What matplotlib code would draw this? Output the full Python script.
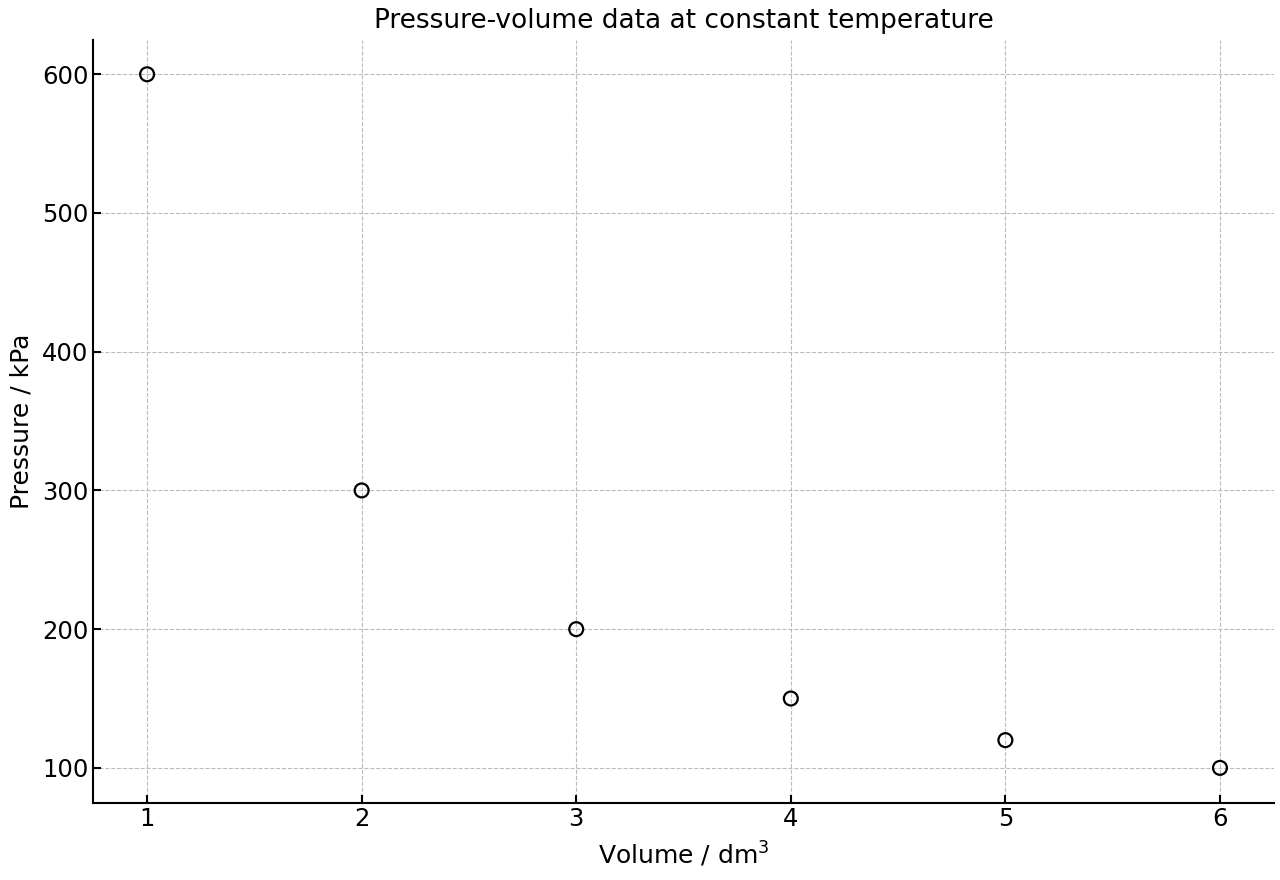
import matplotlib
matplotlib.use("Agg")
import matplotlib.pyplot as plt

# volume (dm^3) and pressure (kPa) readings
volume = [1, 2, 3, 4, 5, 6]
pressure = [600, 300, 200, 150, 120, 100]

fig, ax = plt.subplots(figsize=(12.8, 8.8), dpi=100)
ax.scatter(volume, pressure, s=100, facecolors='none', edgecolors='black', linewidths=1.6, zorder=3)

ax.set_title('Pressure-volume data at constant temperature', fontsize=19, pad=8)
ax.set_xlabel('Volume / dm$^3$', fontsize=18, labelpad=6)
ax.set_ylabel('Pressure / kPa', fontsize=18, labelpad=6)
ax.set_yticks([100, 200, 300, 400, 500, 600])
ax.tick_params(direction='in', labelsize=17.5, length=6, width=1.5)
ax.grid(True, linestyle='--', color='#bbbbbb', linewidth=0.8)
for side in ['top', 'right']:
    ax.spines[side].set_visible(False)
for side in ['left', 'bottom']:
    ax.spines[side].set_linewidth(1.5)

fig.subplots_adjust(left=0.073, right=0.995, top=0.955, bottom=0.088)
fig.savefig('out.png')
